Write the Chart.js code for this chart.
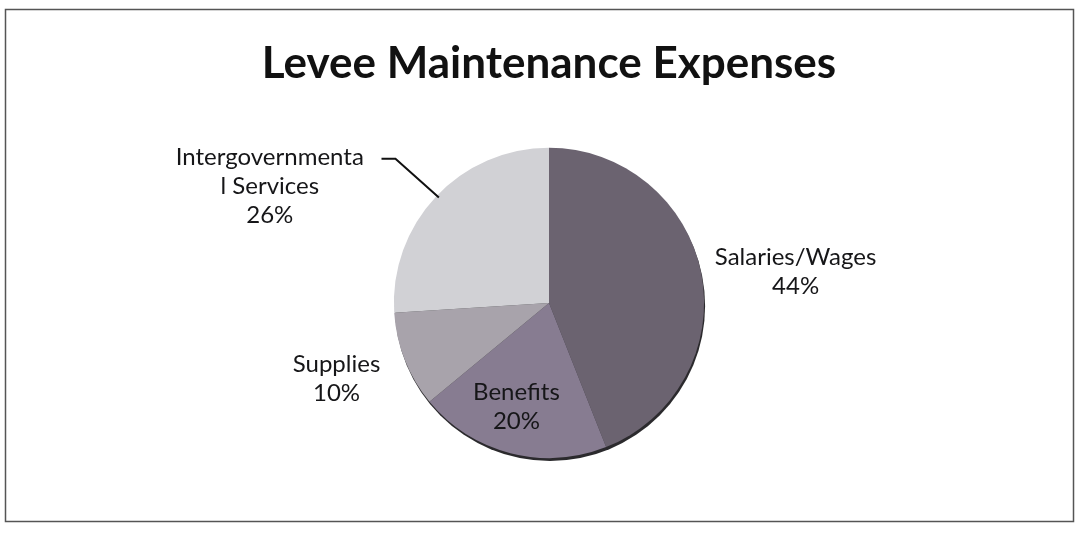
<!DOCTYPE html>
<html>
<head>
<meta charset="utf-8">
<script src="https://cdn.jsdelivr.net/npm/chart.js@4.4.1/dist/chart.umd.min.js"></script>
<style>
  html, body { margin: 0; padding: 0; background: #fff; }
  #wrap { width: 1079px; height: 533px; }
</style>
</head>
<body>
<div id="wrap"><canvas id="expenseChart" width="1079" height="533"></canvas></div>
<script>
// Slice data, clockwise from 12 o'clock
const categories = ['Salaries/Wages', 'Benefits', 'Supplies', 'Intergovernmental Services'];
const labelLines = [['Salaries/Wages'], ['Benefits'], ['Supplies'], ['Intergovernmenta', 'l Services']];
const percents = [44, 20, 10, 26];
const sliceColors = ['#6b6370', '#877c91', '#a8a3ab', '#d1d1d5'];

// Label placement in units of the pie radius, measured from the centre
const labelSpots = [
    { fx: 1.59, fy: -0.20 },
    { fx: -0.21, fy: 0.67 },
    { fx: -1.37, fy: 0.49 },
    { fx: -1.80, fy: -0.75 }
];
// Leader line for the Intergovernmental label (radius units)
const leader = [[-1.08, -0.93], [-0.99, -0.93], [-0.71, -0.68]];

// White page plus the thin frame around the whole chart
const framePlugin = {
    id: 'frame',
    beforeDraw(chart) {
        const c = chart.ctx;
        c.save();
        c.fillStyle = '#fff';
        c.fillRect(0, 0, chart.width, chart.height);
        c.strokeStyle = '#555';
        c.lineWidth = 1.5;
        c.strokeRect(5.5, 9.5, chart.width - 11, chart.height - 21);
        c.restore();
    }
};

// Dark rim under the pie, like the scanned one
const rimPlugin = {
    id: 'rim',
    beforeDatasetsDraw(chart) {
        const arc = chart.getDatasetMeta(0).data[0];
        if (!arc) return;
        const c = chart.ctx;
        c.save();
        c.fillStyle = '#2b2a2d';
        c.beginPath();
        c.arc(arc.x + 1, arc.y + 3, arc.outerRadius, 0, Math.PI * 2);
        c.fill();
        c.restore();
    }
};

// Category name + percent labels
const sliceLabelPlugin = {
    id: 'sliceLabels',
    afterDatasetsDraw(chart) {
        const meta = chart.getDatasetMeta(0);
        const first = meta.data[0];
        const cx = first.x, cy = first.y, r = first.outerRadius;
        const c = chart.ctx;
        c.save();
        c.fillStyle = '#161618';
        c.font = '24px Lato, "Open Sans", sans-serif';
        c.textAlign = 'center';
        c.textBaseline = 'middle';
        const lh = 29;
        meta.data.forEach((el, i) => {
            const lines = labelLines[i].concat([percents[i] + '%']);
            const x = cx + labelSpots[i].fx * r;
            const y = cy + labelSpots[i].fy * r;
            const top = y - (lines.length - 1) * lh / 2;
            lines.forEach((t, k) => c.fillText(t, x, top + k * lh));
        });
        c.strokeStyle = '#111';
        c.lineWidth = 2;
        c.beginPath();
        leader.forEach((p, k) => {
            const px = cx + p[0] * r, py = cy + p[1] * r;
            if (k === 0) c.moveTo(px, py); else c.lineTo(px, py);
        });
        c.stroke();
        c.restore();
    }
};

const ctx = document.getElementById('expenseChart').getContext('2d');
window.myPieChart = new Chart(ctx, {
    type: 'pie',
    data: {
        labels: categories,
        datasets: [{
            data: percents,
            backgroundColor: sliceColors,
            borderWidth: 0
        }]
    },
    options: {
        responsive: false,
        animation: false,
        layout: { padding: { top: 0, bottom: 75, left: 19, right: 0 } },
        plugins: {
            legend: { display: false },
            tooltip: { enabled: false },
            title: {
                display: true,
                text: 'Levee Maintenance Expenses',
                color: '#111',
                font: { family: 'Lato, "Open Sans", sans-serif', size: 44, weight: 'bold' },
                padding: { top: 37, bottom: 58 }
            }
        }
    },
    plugins: [framePlugin, rimPlugin, sliceLabelPlugin]
});
</script>
</body>
</html>
